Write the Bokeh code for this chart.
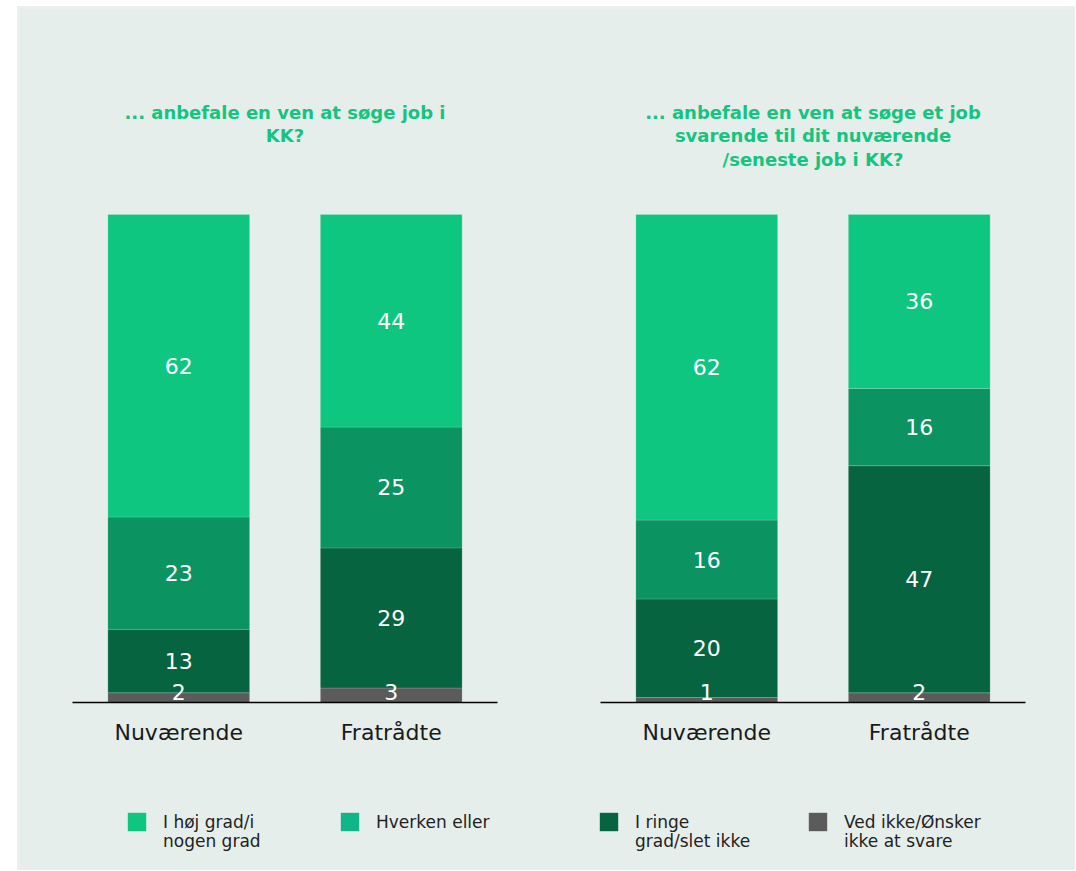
from bokeh.plotting import figure
from bokeh.layouts import row, column
from bokeh.models import FactorRange, Range1d, Label, Legend, LegendItem, ColumnDataSource, Spacer
from bokeh.core.properties import value
from bokeh.embed import file_html
from bokeh.resources import INLINE

# ---------------- data ----------------
categories = ["Nuværende", "Fratrådte"]
legend_labels = ["I høj grad/i\nnogen grad", "Hverken eller", "I ringe\ngrad/slet ikke",
                 "Ved ikke/Ønsker\nikke at svare"]

titles = ["... anbefale en ven at søge job i\nKK?",
          "... anbefale en ven at søge et job\nsvarende til dit nuværende\n/seneste job i KK?"]

# chart 1: ... anbefale en ven at søge job i KK?
c1_hoej = [62, 44]
c1_hverken = [23, 25]
c1_ringe = [13, 29]
c1_vedikke = [2, 3]

# chart 2: ... anbefale en ven at søge et job svarende til dit nuværende/seneste job i KK?
c2_hoej = [62, 36]
c2_hverken = [16, 16]
c2_ringe = [20, 47]
c2_vedikke = [1, 2]

bar_colors = ["#0FC680", "#0B9461", "#066441", "#5B5B5B"]
legend_colors = ["#0FC680", "#11B589", "#066441", "#5B5B5B"]

# ---------------- style ----------------
BG = "#E5EEEB"
TITLE_COLOR = "#14C47F"
FONT = "DejaVu Sans"
TOP_H = 756
BORDER_TOP = 84
BORDER_BOTTOM = 60
FRAME_H = TOP_H - BORDER_TOP - BORDER_BOTTOM
PX_PER_PCT = 4.88
Y_TOP = FRAME_H / PX_PER_PCT
MIN_LABEL_Y = 10.5 / PX_PER_PCT   # keep small labels above the baseline


def make_chart(title, hoej, hverken, ringe, vedikke, width, b_left, b_right):
    stacks = [vedikke, ringe, hverken, hoej]
    cols = [bar_colors[3], bar_colors[2], bar_colors[1], bar_colors[0]]
    totals = [sum(v) for v in zip(*stacks)]
    p = figure(x_range=FactorRange(*categories), y_range=Range1d(0, Y_TOP),
               width=width, height=TOP_H, output_backend="svg", toolbar_location=None,
               min_border_left=b_left, min_border_right=b_right,
               min_border_top=BORDER_TOP, min_border_bottom=BORDER_BOTTOM)
    bottoms = [0.0] * len(categories)
    sources = []
    for vals, col in zip(stacks, cols):
        tops = [b + v / t * 100 for b, v, t in zip(bottoms, vals, totals)]
        src = ColumnDataSource(dict(x=categories, bottom=bottoms, top=tops,
                                    mid=[max((b + t) / 2, MIN_LABEL_Y) for b, t in zip(bottoms, tops)],
                                    label=[str(v) for v in vals]))
        p.vbar(x="x", bottom="bottom", top="top", width=0.667, source=src,
               fill_color=col, line_color="white", line_alpha=0.15, line_width=1)
        sources.append(src)
        bottoms = tops
    for src in sources:
        p.text(x="x", y="mid", text="label", source=src, text_color="white",
               text_font_size="22px", text_align="center", text_baseline="middle",
               text_font=value(FONT))
    p.add_layout(Label(x=1.0, y=Y_TOP - 11 / PX_PER_PCT, text=title, text_align="center",
                       text_baseline="top", text_font=FONT, text_font_style="bold",
                       text_font_size="18px", text_color=TITLE_COLOR, text_line_height=1.13))
    p.yaxis.visible = False
    p.xgrid.visible = False
    p.ygrid.visible = False
    p.outline_line_color = None
    p.background_fill_color = None
    p.border_fill_color = None
    ax = p.xaxis[0]
    ax.axis_line_color = "black"
    ax.axis_line_width = 1.3
    ax.major_tick_line_color = None
    ax.minor_tick_line_color = None
    ax.major_label_text_font_size = "22px"
    ax.major_label_text_font = FONT
    ax.major_label_text_color = "#1A1A1A"
    ax.major_label_standoff = 11
    return p


p1 = make_chart(titles[0], c1_hoej, c1_hverken, c1_ringe, c1_vedikke, 530, 55, 50)
p2 = make_chart(titles[1], c2_hoej, c2_hverken, c2_ringe, c2_vedikke, 528, 53, 50)

# legend strip
lf = figure(width=1058, height=108, x_range=Range1d(0, 1), y_range=Range1d(0, 1),
            x_axis_type=None, y_axis_type=None, output_backend="svg", toolbar_location=None,
            min_border=0)
lf.outline_line_color = None
lf.grid.visible = False
lf.background_fill_color = None
lf.border_fill_color = None
# zero-size swatches: only their colours are used by the legend
dummies = [lf.vbar(x=[0], bottom=[0], top=[0], width=0, fill_color=c, line_color=None)
           for c in legend_colors]
blank = lf.vbar(x=[0], bottom=[0], top=[0], width=0, fill_alpha=0, line_color=None)


def make_legend(idx, loc, lw, line):
    items = []
    for i in idx:
        parts = legend_labels[i].split("\n")
        text = parts[line] if line < len(parts) else ""
        items.append(LegendItem(label=text, renderers=[dummies[i] if line == 0 else blank]))
    return Legend(items=items,
                  location=loc, orientation="horizontal", glyph_width=23, glyph_height=23,
                  label_standoff=15, label_width=lw, spacing=25, padding=0, margin=0,
                  border_line_color=None, background_fill_alpha=0,
                  label_text_font_size="17px", label_text_font=FONT,
                  label_text_color="#222222")


lf.add_layout(make_legend([0, 1], (108, 37), 150, 0))
lf.add_layout(make_legend([0, 1], (108, 18), 150, 1))
lf.add_layout(make_legend([2, 3], (580, 37), 146, 0))
lf.add_layout(make_legend([2, 3], (580, 18), 146, 1))

panel = column(row(p1, p2), lf,
               styles={"background-color": BG, "box-shadow": "inset 3px 3px 0 #EDEFEE"})
layout = column(Spacer(width=10, height=6), row(Spacer(width=17, height=10), panel))
open("out.html", "w").write(file_html(layout, INLINE))
